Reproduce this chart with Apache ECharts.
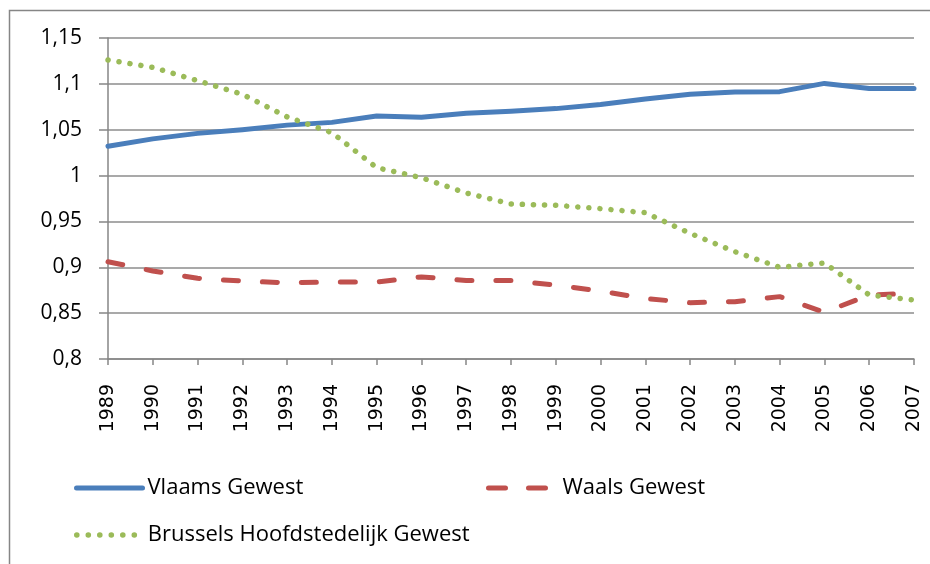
<!DOCTYPE html>
<html>
<head>
<meta charset="utf-8">
<script src="https://cdn.jsdelivr.net/npm/echarts@6/dist/echarts.min.js"></script>
<style>
html,body{margin:0;padding:0;background:#fff;}
#main{width:930px;height:564px;}
</style>
</head>
<body>
<div id="main"></div>
<script>
var years = ['1989','1990','1991','1992','1993','1994','1995','1996','1997','1998','1999','2000','2001','2002','2003','2004','2005','2006','2007'];
var vlaams = [1.032,1.040,1.046,1.050,1.055,1.058,1.065,1.0635,1.068,1.070,1.073,1.0775,1.0835,1.0886,1.091,1.0915,1.1005,1.095,1.095];
var waals = [0.906,0.896,0.888,0.885,0.883,0.884,0.884,0.8895,0.8855,0.8855,0.8807,0.874,0.866,0.8614,0.8625,0.868,0.851,0.8698,0.8716];
var brussels = [1.126,1.118,1.1035,1.0886,1.064,1.0468,1.0086,0.9977,0.981,0.969,0.9676,0.9639,0.9595,0.937,0.917,0.900,0.9047,0.8698,0.8643];
var yTicks = {min:0.8, max:1.15, interval:0.05};

var blue = '#4a7ebb', red = '#c0504d', green = '#9bbb59';
var fontLegend = '"Open Sans", sans-serif';

var chart = echarts.init(document.getElementById('main'));
var legendBase = {
  orient:'horizontal', padding:0, itemHeight:24, itemGap:0,
  textStyle:{fontFamily:fontLegend, fontSize:22, color:'#000', lineHeight:24},
  selectedMode:false
};
var noSym = {opacity:0, color:'rgba(0,0,0,0)', borderWidth:0};
chart.setOption({
  animation:false,
  backgroundColor:'#fff',
  graphic:[{type:'rect', shape:{x:9.5,y:10.5,width:1000,height:1000}, style:{fill:'none', stroke:'#868686', lineWidth:1.5}, silent:true}],
  grid:{left:108, right:16, top:38, bottom:205, containLabel:false},
  legend:[
    Object.assign({}, legendBase, {left:74, top:476, itemWidth:66,
      data:[{name:'Vlaams Gewest', itemStyle:noSym, lineStyle:{color:blue, width:5, type:'solid', cap:'round'}}]}),
    Object.assign({}, legendBase, {left:486, top:476, itemWidth:69,
      data:[{name:'Waals Gewest', itemStyle:noSym, lineStyle:{color:red, width:5, type:[17,23], cap:'round'}}]}),
    Object.assign({}, legendBase, {left:74, top:523, itemWidth:60,
      textStyle:Object.assign({}, legendBase.textStyle, {padding:[0,0,0,6]}),
      data:[{name:'Brussels Hoofdstedelijk Gewest', itemStyle:noSym, lineStyle:{color:green, width:5.5, type:[0.1,11.4], cap:'round'}}]})
  ],
  xAxis:{
    type:'category', data:years, boundaryGap:false,
    axisLine:{lineStyle:{color:'#868686', width:1.5}},
    axisTick:{show:true, length:6, lineStyle:{color:'#868686', width:1.5}},
    axisLabel:{rotate:90, margin:25, color:'#000', fontFamily:'"DejaVu Sans", sans-serif', fontSize:19, interval:0},
    splitLine:{show:false}
  },
  yAxis:{
    type:'value', min:yTicks.min, max:yTicks.max, interval:yTicks.interval,
    axisLine:{show:true, lineStyle:{color:'#868686', width:1.5}},
    axisTick:{show:true, length:9, lineStyle:{color:'#868686', width:1.5}},
    axisLabel:{margin:26, color:'#000', fontFamily:fontLegend, fontSize:21,
      formatter:function(v){return String(+v.toFixed(2)).replace('.', ',');}},
    splitLine:{show:true, lineStyle:{color:'#8c8c8c', width:1.5}}
  },
  series:[
    {name:'Vlaams Gewest', type:'line', data:vlaams, symbol:'none', z:3,
      lineStyle:{color:blue, width:5, cap:'round', join:'round'}, itemStyle:{color:blue}},
    {name:'Waals Gewest', type:'line', data:waals, symbol:'none', z:2,
      lineStyle:{color:red, width:5, type:[15,24], cap:'round', join:'round'}, itemStyle:{color:red}},
    {name:'Brussels Hoofdstedelijk Gewest', type:'line', data:brussels, symbol:'none', z:4,
      lineStyle:{color:green, width:5.5, type:[0.1,11], cap:'round', join:'round'}, itemStyle:{color:green}}
  ]
});
</script>
</body>
</html>
